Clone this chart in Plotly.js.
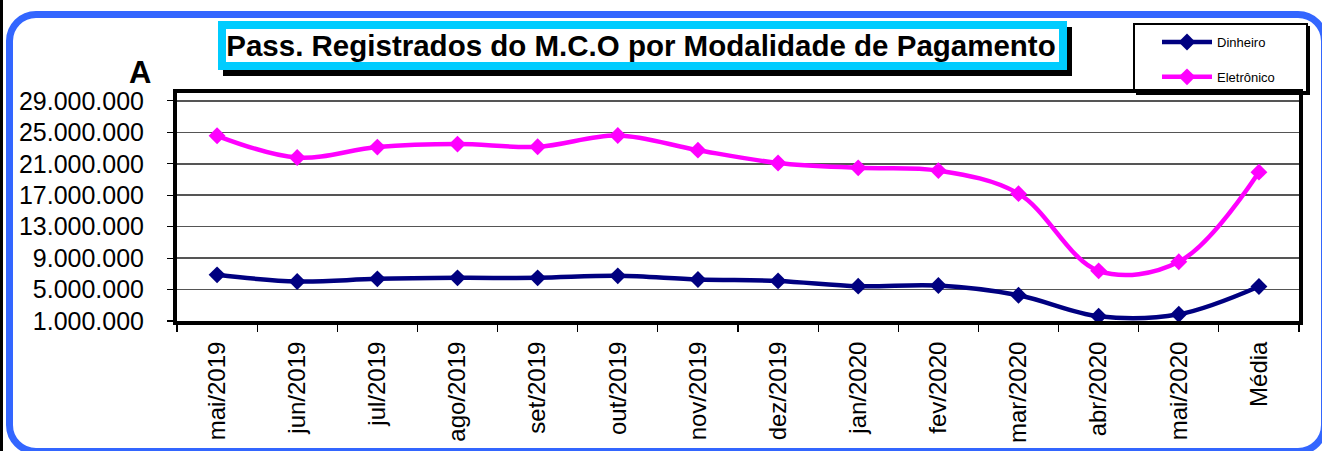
<!DOCTYPE html>
<html>
<head>
<meta charset="utf-8">
<script src="https://cdn.plot.ly/plotly-3.0.1.min.js"></script>
<style>
  html, body { margin: 0; padding: 0; background: #ffffff; overflow: hidden; }
  #wrap { position: relative; width: 1322px; height: 451px; background: #ffffff; overflow: hidden; }
  #strip { position: absolute; left: 0; top: 0; width: 3px; height: 451px; background: #000000; }
  #frame { position: absolute; left: 6px; top: 11px; width: 1322px; height: 444px; box-sizing: border-box;
           border: 7px solid #3366FF; border-radius: 30px; }
  #chart { position: absolute; left: 0; top: 0; width: 1322px; height: 451px; }
</style>
</head>
<body>
<div id="wrap">
  <div id="strip"></div>
  <div id="frame"></div>
  <div id="chart"></div>
</div>
<script>
// ---- data ----
const categories = ['mai/2019','jun/2019','jul/2019','ago/2019','set/2019','out/2019','nov/2019','dez/2019','jan/2020','fev/2020','mar/2020','abr/2020','mai/2020','Média'];
const dinheiro   = [6870000, 6020000, 6360000, 6490000, 6490000, 6740000, 6280000, 6100000, 5430000, 5510000, 4280000, 1600000, 1850000, 5390000];
const eletronico = [24560000, 21790000, 23120000, 23500000, 23160000, 24600000, 22730000, 21100000, 20480000, 20130000, 17200000, 7380000, 8530000, 19930000];
const seriesNames = ['Dinheiro', 'Eletrônico'];
const titleText = 'Pass. Registrados do M.C.O por Modalidade de Pagamento';
const axisLetter = 'A';

// ---- geometry helpers (pixel -> paper) ----
const W = 1322, H = 451;
const M = { l: 177, r: 23, t: 93, b: 130 };
const PW = W - M.l - M.r, PH = H - M.t - M.b;
const X = px => (px - M.l) / PW;
const Y = py => (H - M.b - py) / PH;

const FONT = 'Liberation Sans, Arial, sans-serif';

const traces = [
  {
    x: categories, y: dinheiro, name: seriesNames[0], type: 'scatter', mode: 'lines+markers',
    line: { color: '#000080', width: 4.5, shape: 'spline', smoothing: 1 },
    marker: { symbol: 'diamond', size: 13, color: '#000080' },
    legendgroup: 'a'
  },
  {
    x: categories, y: eletronico, name: seriesNames[1], type: 'scatter', mode: 'lines+markers',
    line: { color: '#FF00FF', width: 4.5, shape: 'spline', smoothing: 1 },
    marker: { symbol: 'diamond', size: 13, color: '#FF00FF' },
    legendgroup: 'b'
  }
];

const layout = {
  width: W, height: H,
  margin: M,
  paper_bgcolor: 'rgba(0,0,0,0)',
  plot_bgcolor: '#ffffff',
  separators: ',.',
  font: { family: FONT, color: '#000000' },
  showlegend: true,
  title: {
    text: titleText,
    font: { family: FONT, size: 29.5, weight: 'bold', color: '#000000' },
    xref: 'container', yref: 'container',
    x: 641 / W, xanchor: 'center',
    y: 1 - 46 / H, yanchor: 'middle'
  },
  xaxis: {
    type: 'category',
    range: [-0.5, categories.length - 0.5],
    showline: true, linewidth: 4, linecolor: '#000000', mirror: true,
    showgrid: false, zeroline: false,
    ticks: 'outside', tickson: 'boundaries', ticklen: 7, tickwidth: 1.2, tickcolor: '#000000',
    tickangle: -90,
    tickfont: { family: FONT, size: 24, color: '#000000' },
    ticklabelstandoff: 7
  },
  yaxis: {
    range: [1000000, 30000000],
    tick0: 1000000, dtick: 4000000,
    tickformat: ',d',
    showline: true, linewidth: 4, linecolor: '#000000', mirror: true,
    showgrid: true, gridcolor: '#555555', gridwidth: 1.5,
    zeroline: false,
    ticks: 'outside', ticklen: 6, tickwidth: 1.2, tickcolor: '#000000',
    tickfont: { family: FONT, size: 25, color: '#000000' },
    ticklabelstandoff: 18
  },
  legend: {
    x: X(1157), y: Y(27), xanchor: 'left', yanchor: 'top',
    xref: 'paper', yref: 'paper',
    bgcolor: 'rgba(0,0,0,0)', borderwidth: 0,
    font: { family: FONT, size: 13, color: '#000000' },
    traceorder: 'grouped', tracegroupgap: 15,
    itemwidth: 50
  },
  annotations: [
    {
      text: axisLetter, showarrow: false,
      xref: 'paper', yref: 'paper', x: X(140), y: Y(72),
      xanchor: 'center', yanchor: 'middle',
      font: { family: FONT, size: 31, weight: 'bold', color: '#000000' }
    }
  ],
  shapes: [
    // title shadow
    { type: 'rect', xref: 'paper', yref: 'paper', layer: 'below',
      x0: X(223), x1: X(1072), y0: Y(76), y1: Y(27),
      fillcolor: '#000000', line: { width: 0 } },
    // title box
    { type: 'rect', xref: 'paper', yref: 'paper', layer: 'below',
      x0: X(222), x1: X(1063), y0: Y(66), y1: Y(25),
      fillcolor: '#ffffff', line: { color: '#00CCFF', width: 8 } },
    // legend shadow
    { type: 'rect', xref: 'paper', yref: 'paper', layer: 'below',
      x0: X(1136), x1: X(1310), y0: Y(95), y1: Y(26),
      fillcolor: '#000000', line: { width: 0 } },
    // legend box
    { type: 'rect', xref: 'paper', yref: 'paper', layer: 'below',
      x0: X(1134), x1: X(1307), y0: Y(92), y1: Y(24),
      fillcolor: '#ffffff', line: { color: '#000000', width: 2 } }
  ]
};

Plotly.newPlot('chart', traces, layout, { staticPlot: true, displayModeBar: false });
</script>
</body>
</html>
